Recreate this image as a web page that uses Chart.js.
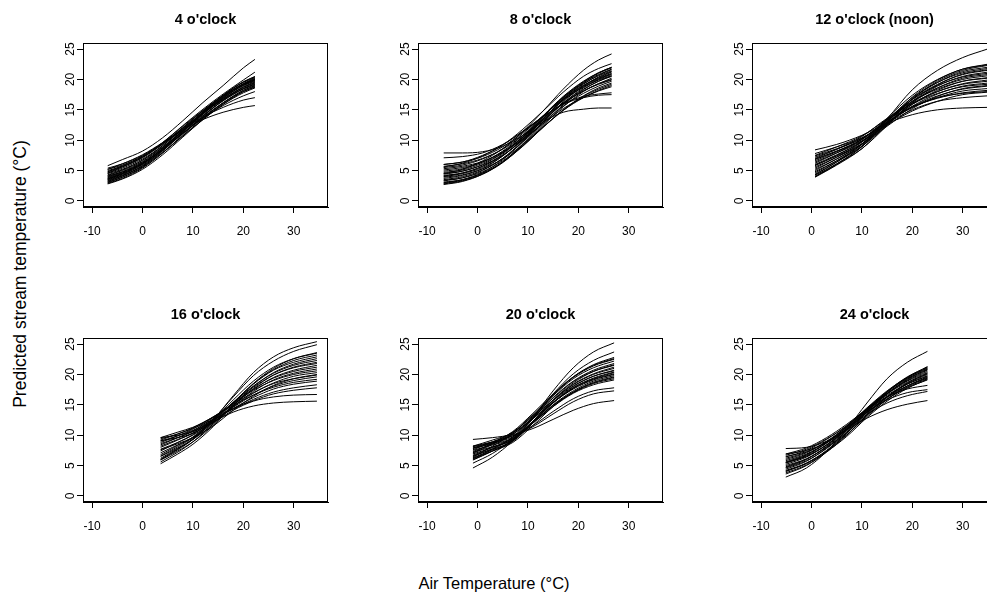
<!DOCTYPE html>
<html>
<head>
<meta charset="utf-8">
<script src="https://cdn.jsdelivr.net/npm/chart.js@4.4.1/dist/chart.umd.min.js"></script>
<style>
html, body { margin: 0; padding: 0; width: 987px; height: 593px; overflow: hidden; background: #fff; }
canvas { position: absolute; }
.axis-title { position: absolute; font-family: "Liberation Sans", Arial, sans-serif; color: #000; white-space: nowrap; }
#xTitle { left: 494px; top: 583px; font-size: 16.5px; transform: translate(-50%, -50%); }
#yTitle { left: 19.5px; top: 274px; font-size: 17.5px; transform: translate(-50%, -50%) rotate(-90deg); }
</style>
</head>
<body>
<div id="xTitle" class="axis-title">Air Temperature (°C)</div>
<div id="yTitle" class="axis-title">Predicted stream temperature (°C)</div>
<script>
const panelTitles = ["4 o'clock", "8 o'clock", "12 o'clock (noon)", "16 o'clock", "20 o'clock", "24 o'clock"];
const xTicks = [-10, 0, 10, 20, 30];
const yTicks = [0, 5, 10, 15, 20, 25];

// 4 o'clock
const xs04 = [-6.9, -4, 0, 4, 8, 12, 16, 20, 22.3];
const curves04 = [
  [5.8, 6.8, 8.2, 10.4, 13.2, 16.2, 19.0, 21.9, 23.3],
  [4.6, 5.6, 7.2, 9.6, 12.4, 15.1, 17.6, 19.9, 21.2],
  [5.2, 6.1, 7.6, 9.6, 11.7, 13.4, 14.6, 15.4, 15.7],
  [4.8, 5.8, 7.3, 9.4, 11.7, 13.8, 15.4, 16.6, 17.0],
  [3.6, 4.5, 6.2, 8.6, 11.2, 13.6, 15.7, 17.3, 18.0],
  [2.8, 3.6, 5.2, 7.6, 10.5, 13.4, 15.9, 18.0, 18.8],
  [2.9, 3.7, 5.4, 7.9, 10.9, 13.9, 16.6, 18.8, 19.6],
  [3.0, 3.9, 5.6, 8.2, 11.3, 14.4, 17.1, 19.3, 20.2],
  [3.1, 3.9, 5.5, 7.9, 10.7, 13.6, 16.1, 18.2, 19.0],
  [3.3, 4.1, 5.8, 8.3, 11.3, 14.3, 16.9, 19.1, 19.9],
  [3.4, 4.2, 5.7, 8.0, 10.7, 13.4, 15.9, 17.8, 18.6],
  [3.5, 4.3, 6.0, 8.6, 11.6, 14.7, 17.4, 19.6, 20.4],
  [3.6, 4.4, 6.0, 8.3, 11.1, 14.0, 16.5, 18.5, 19.3],
  [3.8, 4.6, 6.2, 8.6, 11.5, 14.4, 16.9, 19.0, 19.8],
  [3.9, 4.7, 6.2, 8.4, 11.1, 13.8, 16.2, 18.2, 18.9],
  [4.0, 4.8, 6.4, 8.8, 11.7, 14.6, 17.2, 19.3, 20.1],
  [4.2, 5.0, 6.5, 8.8, 11.5, 14.3, 16.7, 18.7, 19.5],
  [4.3, 5.1, 6.7, 9.1, 12.0, 14.9, 17.4, 19.5, 20.3],
  [4.5, 5.2, 6.7, 8.9, 11.5, 14.1, 16.5, 18.4, 19.1],
  [4.6, 5.4, 6.9, 9.1, 11.8, 14.6, 17.0, 19.0, 19.7],
  [4.8, 5.6, 7.1, 9.4, 12.1, 14.8, 17.3, 19.2, 20.0],
  [5.0, 5.7, 7.2, 9.3, 11.9, 14.5, 16.8, 18.7, 19.4],
  [5.2, 5.9, 7.4, 9.6, 12.3, 14.9, 17.3, 19.2, 19.9],
  [5.4, 6.1, 7.5, 9.5, 12.0, 14.5, 16.7, 18.5, 19.2],
  [3.2, 4.1, 5.8, 8.4, 11.5, 14.6, 17.4, 19.6, 20.5],
  [4.1, 4.8, 6.3, 8.5, 11.1, 13.7, 16.1, 18.0, 18.7],
  [3.7, 4.5, 6.1, 8.6, 11.5, 14.5, 17.1, 19.2, 20.0]
];

// 8 o'clock
const xs08 = [-6.7, -3, 1, 5, 9, 13, 17, 21, 24, 26.6];
const curves08 = [
  [4.5, 5.2, 6.6, 8.6, 11.4, 14.8, 18.4, 21.5, 23.2, 24.2],
  [5.6, 6.2, 7.4, 9.2, 11.8, 14.8, 17.9, 20.5, 21.8, 22.6],
  [7.9, 7.9, 8.1, 9.0, 10.8, 13.0, 14.6, 15.1, 15.3, 15.3],
  [7.1, 7.3, 7.9, 9.3, 11.4, 13.8, 15.9, 17.0, 17.4, 17.5],
  [6.0, 6.4, 7.5, 9.2, 11.5, 13.9, 16.0, 17.2, 17.6, 17.8],
  [2.7, 3.2, 4.4, 6.4, 9.4, 12.9, 16.3, 18.9, 20.4, 21.3],
  [2.8, 3.3, 4.4, 6.3, 9.1, 12.4, 15.5, 18.0, 19.3, 20.2],
  [3.0, 3.5, 4.7, 6.8, 9.8, 13.4, 16.8, 19.4, 21.0, 21.9],
  [3.1, 3.5, 4.6, 6.4, 9.0, 12.1, 15.0, 17.3, 18.6, 19.4],
  [3.3, 3.8, 5.0, 7.0, 9.9, 13.4, 16.7, 19.2, 20.7, 21.6],
  [3.5, 4.0, 5.1, 7.0, 9.7, 13.0, 16.1, 18.6, 20.0, 20.8],
  [3.7, 4.2, 5.3, 7.4, 10.3, 13.8, 17.1, 19.6, 21.1, 22.0],
  [3.9, 4.3, 5.3, 6.9, 9.3, 12.2, 14.9, 17.0, 18.2, 19.0],
  [4.0, 4.5, 5.5, 7.4, 10.2, 13.5, 16.6, 19.0, 20.3, 21.2],
  [4.2, 4.6, 5.7, 7.5, 10.1, 13.2, 16.1, 18.4, 19.7, 20.5],
  [4.4, 4.9, 6.0, 7.9, 10.6, 13.9, 17.0, 19.5, 20.8, 21.7],
  [4.5, 4.9, 5.9, 7.5, 10.0, 12.9, 15.6, 17.7, 18.9, 19.7],
  [4.7, 5.1, 6.2, 7.9, 10.5, 13.6, 16.5, 18.8, 20.1, 20.9],
  [4.9, 5.3, 6.4, 8.2, 10.8, 14.0, 17.0, 19.3, 20.6, 21.4],
  [5.1, 5.5, 6.4, 8.1, 10.5, 13.3, 16.0, 18.1, 19.3, 20.0],
  [5.3, 5.7, 6.5, 8.0, 10.2, 12.7, 15.2, 17.0, 18.1, 18.8],
  [5.5, 5.9, 6.9, 8.6, 11.1, 14.0, 16.8, 19.0, 20.2, 21.0],
  [5.7, 6.1, 7.0, 8.5, 10.8, 13.5, 16.1, 18.1, 19.2, 19.9],
  [6.0, 6.4, 7.3, 8.9, 11.3, 14.0, 16.7, 18.7, 19.9, 20.6],
  [3.4, 3.8, 4.8, 6.6, 9.1, 12.1, 14.9, 17.2, 18.4, 19.2],
  [4.1, 4.6, 5.7, 7.7, 10.5, 14.0, 17.2, 19.7, 21.1, 22.0],
  [2.9, 3.4, 4.5, 6.4, 9.3, 12.6, 15.8, 18.3, 19.7, 20.6]
];

// 12 o'clock (noon)
const xs12 = [0.7, 5, 10, 15, 20, 25, 30, 34.9];
const curves12 = [
  [4.0, 6.0, 9.0, 13.5, 18.3, 21.5, 23.6, 25.0],
  [8.4, 9.3, 10.8, 12.8, 14.2, 15.0, 15.3, 15.4],
  [7.8, 8.9, 10.4, 12.8, 15.0, 16.4, 17.0, 17.3],
  [7.4, 8.6, 10.3, 12.9, 15.4, 17.0, 17.7, 18.0],
  [3.9, 5.9, 8.6, 12.6, 16.8, 19.7, 21.5, 22.3],
  [4.0, 6.1, 8.9, 13.0, 17.1, 19.9, 21.7, 22.5],
  [4.2, 6.1, 8.6, 12.4, 16.4, 19.1, 20.9, 21.6],
  [4.4, 6.4, 9.0, 12.9, 16.8, 19.5, 21.3, 22.0],
  [4.6, 6.6, 9.3, 13.3, 17.0, 19.5, 21.1, 21.8],
  [4.8, 6.6, 9.0, 12.5, 16.2, 18.9, 20.5, 21.2],
  [5.0, 6.9, 9.4, 13.1, 16.7, 19.2, 20.8, 21.5],
  [5.2, 6.9, 9.3, 12.7, 16.2, 18.6, 20.2, 20.8],
  [5.4, 7.2, 9.7, 13.4, 16.7, 19.0, 20.4, 21.0],
  [5.6, 7.2, 9.4, 12.6, 15.9, 18.2, 19.7, 20.3],
  [5.8, 7.5, 9.8, 13.2, 16.4, 18.6, 20.0, 20.6],
  [6.0, 7.6, 9.7, 12.8, 15.9, 18.0, 19.3, 19.9],
  [6.2, 7.9, 10.1, 13.5, 16.4, 18.4, 19.7, 20.2],
  [6.4, 7.9, 9.8, 12.7, 15.6, 17.6, 18.9, 19.4],
  [6.6, 8.1, 10.2, 13.3, 16.1, 18.0, 19.2, 19.7],
  [6.8, 8.2, 10.1, 12.9, 15.5, 17.3, 18.4, 18.9],
  [7.0, 8.5, 10.6, 13.6, 16.0, 17.7, 18.8, 19.2],
  [7.2, 8.5, 10.3, 13.0, 15.4, 17.0, 18.1, 18.5],
  [7.5, 8.9, 10.7, 13.4, 15.5, 16.9, 17.8, 18.2],
  [4.3, 6.4, 9.3, 13.6, 17.4, 20.0, 21.7, 22.4],
  [5.9, 7.4, 9.4, 12.3, 15.2, 17.2, 18.5, 19.0],
  [6.9, 8.2, 9.9, 12.5, 14.8, 16.4, 17.5, 17.9]
];

// 16 o'clock
const xs16 = [3.6, 7, 10, 14, 18, 22, 26, 30, 34.6];
const curves16 = [
  [6.0, 7.6, 9.3, 12.5, 16.5, 20.3, 22.9, 24.4, 25.4],
  [6.6, 8.1, 9.6, 12.6, 16.3, 19.8, 22.2, 23.8, 24.9],
  [9.6, 10.0, 10.6, 12.2, 13.8, 14.8, 15.3, 15.5, 15.6],
  [9.1, 9.6, 10.3, 12.1, 14.1, 15.6, 16.3, 16.6, 16.7],
  [5.3, 6.9, 8.5, 11.4, 15.1, 18.5, 21.0, 22.6, 23.6],
  [5.6, 7.2, 8.9, 11.9, 15.3, 18.5, 20.8, 22.3, 23.2],
  [5.9, 7.4, 8.9, 11.6, 14.9, 18.0, 20.3, 21.7, 22.6],
  [6.2, 7.8, 9.3, 12.2, 15.4, 18.4, 20.7, 22.0, 22.9],
  [6.5, 7.9, 9.3, 11.8, 14.9, 17.7, 19.9, 21.2, 22.0],
  [6.8, 8.3, 9.7, 12.4, 15.4, 18.1, 20.2, 21.5, 22.3],
  [7.1, 8.4, 9.6, 12.0, 14.9, 17.5, 19.5, 20.7, 21.5],
  [7.4, 8.8, 10.1, 12.6, 15.4, 17.9, 19.9, 21.1, 21.8],
  [7.7, 8.8, 10.0, 12.1, 14.7, 17.2, 19.1, 20.2, 20.9],
  [8.0, 9.2, 10.4, 12.7, 15.3, 17.6, 19.4, 20.5, 21.2],
  [8.2, 9.3, 10.3, 12.3, 14.7, 16.9, 18.6, 19.7, 20.3],
  [8.4, 9.6, 10.7, 12.9, 15.2, 17.4, 19.0, 20.0, 20.6],
  [8.6, 9.6, 10.6, 12.4, 14.6, 16.6, 18.1, 19.0, 19.6],
  [8.8, 9.9, 11.0, 13.0, 15.1, 17.0, 18.5, 19.3, 19.9],
  [9.0, 9.9, 10.8, 12.5, 14.4, 16.2, 17.6, 18.4, 18.9],
  [9.2, 10.2, 11.2, 13.0, 14.9, 16.6, 17.9, 18.7, 19.2],
  [9.4, 10.2, 11.1, 12.6, 14.3, 15.9, 17.1, 17.8, 18.3],
  [9.6, 10.5, 11.3, 12.9, 14.4, 15.7, 16.8, 17.4, 17.8],
  [6.0, 7.7, 9.4, 12.5, 15.8, 18.9, 21.2, 22.6, 23.5],
  [7.6, 8.6, 9.6, 11.5, 14.1, 16.4, 18.2, 19.3, 20.0]
];

// 20 o'clock
const xs20 = [-0.9, 3, 7, 11, 15, 19, 23, 27.1];
const curves20 = [
  [4.6, 6.4, 9.1, 12.9, 17.3, 21.1, 23.7, 25.2],
  [5.4, 7.0, 9.4, 12.9, 16.8, 20.1, 22.3, 23.7],
  [9.3, 9.6, 10.1, 11.1, 12.6, 14.1, 15.2, 15.7],
  [8.2, 8.9, 9.9, 11.4, 13.5, 15.5, 16.8, 17.3],
  [7.9, 8.7, 9.9, 11.6, 13.9, 16.0, 17.3, 17.8],
  [5.9, 7.4, 9.2, 12.7, 16.6, 19.6, 21.6, 22.8],
  [6.0, 7.4, 9.0, 12.3, 15.8, 18.6, 20.5, 21.6],
  [6.1, 7.7, 9.7, 13.1, 16.6, 19.5, 21.4, 22.5],
  [6.3, 7.6, 9.1, 12.2, 15.7, 18.4, 20.1, 21.2],
  [6.4, 8.2, 10.3, 13.4, 16.5, 19.3, 21.1, 22.2],
  [6.6, 7.7, 9.0, 12.0, 15.4, 18.0, 19.7, 20.7],
  [6.7, 8.0, 9.6, 12.8, 16.2, 18.9, 20.7, 21.8],
  [6.9, 8.0, 9.3, 12.2, 15.3, 17.8, 19.4, 20.4],
  [7.0, 8.5, 10.4, 13.3, 16.1, 18.8, 20.5, 21.5],
  [7.2, 8.1, 9.2, 12.0, 15.0, 17.3, 18.9, 19.8],
  [7.3, 8.6, 10.1, 12.9, 15.8, 18.3, 20.0, 21.0],
  [7.5, 8.4, 9.4, 12.0, 14.9, 17.1, 18.6, 19.5],
  [7.6, 8.9, 10.5, 13.1, 15.7, 18.1, 19.7, 20.6],
  [7.8, 8.6, 9.5, 12.0, 14.7, 16.9, 18.3, 19.1],
  [7.9, 8.9, 10.2, 12.7, 15.4, 17.7, 19.2, 20.1],
  [8.1, 8.8, 9.7, 12.1, 14.9, 17.0, 18.5, 19.3],
  [8.2, 9.2, 10.4, 12.8, 15.4, 17.6, 19.1, 20.0],
  [6.2, 7.4, 8.8, 11.6, 14.7, 17.1, 18.7, 19.6],
  [7.1, 8.7, 10.6, 13.6, 16.8, 19.6, 21.5, 22.6],
  [6.5, 7.8, 9.4, 12.3, 15.3, 17.8, 19.3, 20.3]
];

// 24 o'clock
const xs24 = [-5.1, -1, 3, 7, 11, 15, 19, 23];
const curves24 = [
  [3.1, 4.6, 7.3, 11.0, 15.3, 19.3, 22.0, 23.8],
  [7.8, 8.0, 9.0, 10.9, 12.8, 14.2, 15.1, 15.7],
  [6.9, 7.5, 8.8, 11.0, 13.4, 15.3, 16.5, 17.2],
  [6.5, 7.3, 8.9, 11.3, 13.8, 15.8, 17.0, 17.5],
  [5.5, 6.5, 8.4, 11.1, 14.0, 16.3, 17.6, 18.2],
  [3.6, 5.0, 7.3, 10.3, 13.9, 17.1, 19.5, 21.3],
  [3.8, 5.1, 7.2, 10.0, 13.3, 16.3, 18.6, 20.2],
  [4.0, 5.4, 7.5, 10.4, 13.8, 16.8, 19.2, 20.9],
  [4.2, 5.4, 7.4, 10.1, 13.1, 15.9, 18.1, 19.6],
  [4.4, 5.7, 7.9, 10.7, 14.1, 17.1, 19.4, 21.1],
  [4.6, 5.8, 7.8, 10.5, 13.5, 16.3, 18.5, 20.0],
  [4.8, 6.1, 8.1, 10.8, 14.0, 16.9, 19.1, 20.7],
  [5.0, 6.1, 8.0, 10.4, 13.3, 15.9, 17.9, 19.3],
  [5.2, 6.4, 8.4, 11.0, 14.1, 16.8, 19.0, 20.5],
  [5.4, 6.6, 8.4, 10.9, 13.8, 16.3, 18.4, 19.8],
  [5.6, 6.8, 8.8, 11.5, 14.5, 17.3, 19.5, 21.0],
  [5.8, 6.9, 8.7, 11.0, 13.7, 16.2, 18.1, 19.5],
  [6.0, 7.1, 9.0, 11.4, 14.3, 16.9, 18.9, 20.3],
  [6.2, 7.2, 8.9, 11.1, 13.7, 16.0, 17.8, 19.1],
  [6.4, 7.5, 9.3, 11.6, 14.3, 16.8, 18.7, 20.1],
  [6.7, 7.7, 9.4, 11.5, 14.1, 16.4, 18.1, 19.4],
  [4.1, 5.3, 7.3, 9.8, 12.9, 15.6, 17.7, 19.2],
  [5.5, 6.7, 8.7, 11.3, 14.4, 17.1, 19.3, 20.8],
  [6.9, 7.9, 9.6, 11.8, 14.3, 16.6, 18.4, 19.7],
  [4.7, 6.0, 8.2, 11.0, 14.3, 17.2, 19.6, 21.2]
];

const panelXs = [xs04, xs08, xs12, xs16, xs20, xs24];
const panelCurves = [curves04, curves08, curves12, curves16, curves20, curves24];

// where the plot boxes sit on the page
const colLefts = [83, 418, 752];
const rowTops = [43, 338];
const boxW = 245, boxH = 164;
const yAxisW = 50, xAxisH = 40, padTop = 43, padRight = 12;
const fontFamily = '"Liberation Sans", Arial, sans-serif';

const boxPlugin = {
  id: 'box',
  afterDraw(chart) {
    const { ctx, chartArea: a } = chart;
    ctx.save();
    ctx.strokeStyle = '#000';
    ctx.lineWidth = 1;
    ctx.strokeRect(Math.round(a.left) + 0.5, Math.round(a.top) + 0.5,
      Math.round(a.right - a.left) - 1, Math.round(a.bottom - a.top) - 1);
    ctx.restore();
  }
};

const panelTitlePlugin = {
  id: 'panelTitle',
  afterDraw(chart, args, opts) {
    const { ctx, chartArea: a } = chart;
    ctx.save();
    ctx.font = 'bold 14.5px ' + fontFamily;
    ctx.fillStyle = '#000';
    ctx.textAlign = 'center';
    ctx.textBaseline = 'middle';
    ctx.fillText(opts.text, (a.left + a.right) / 2, a.top - 23.5);
    ctx.restore();
  }
};

function axisGrid() {
  return { display: true, drawOnChartArea: false, drawTicks: true, tickLength: 6, color: '#000', lineWidth: 1 };
}

panelTitles.forEach((title, i) => {
  const col = i % 3, row = Math.floor(i / 3);
  const canvas = document.createElement('canvas');
  canvas.width = yAxisW + boxW + padRight;
  canvas.height = padTop + boxH + xAxisH;
  canvas.style.left = (colLefts[col] - yAxisW) + 'px';
  canvas.style.top = (rowTops[row] - padTop) + 'px';
  document.body.appendChild(canvas);

  const xs = panelXs[i];
  const datasets = panelCurves[i].map(c => ({
    data: xs.map((x, k) => ({ x: x, y: c[k] })),
    borderColor: '#000',
    borderWidth: 1,
    pointRadius: 0,
    fill: false,
    cubicInterpolationMode: 'monotone'
  }));

  new Chart(canvas, {
    type: 'line',
    data: { datasets: datasets },
    options: {
      responsive: false,
      animation: false,
      devicePixelRatio: 1,
      layout: { padding: { top: padTop, right: padRight, left: 0, bottom: 0 } },
      plugins: {
        legend: { display: false },
        tooltip: { enabled: false },
        panelTitle: { text: title }
      },
      scales: {
        x: {
          type: 'linear',
          min: -11.8,
          max: 36.8,
          afterBuildTicks: s => { s.ticks = xTicks.map(v => ({ value: v })); },
          afterFit: s => { s.height = xAxisH; },
          grid: axisGrid(),
          border: { display: true, color: '#000', width: 1 },
          ticks: { color: '#000', font: { family: fontFamily, size: 12 }, padding: 11.5, minRotation: 0, maxRotation: 0, autoSkip: false, callback: v => String(v) }
        },
        y: {
          type: 'linear',
          min: -1,
          max: 26,
          afterBuildTicks: s => { s.ticks = yTicks.map(v => ({ value: v })); },
          afterFit: s => { s.width = yAxisW; },
          grid: axisGrid(),
          border: { display: true, color: '#000', width: 1 },
          ticks: { color: '#000', font: { family: fontFamily, size: 12 }, padding: 0, minRotation: 90, maxRotation: 90, crossAlign: 'center', autoSkip: false, callback: v => String(v) }
        }
      }
    },
    plugins: [boxPlugin, panelTitlePlugin]
  });
});
</script>
</body>
</html>
